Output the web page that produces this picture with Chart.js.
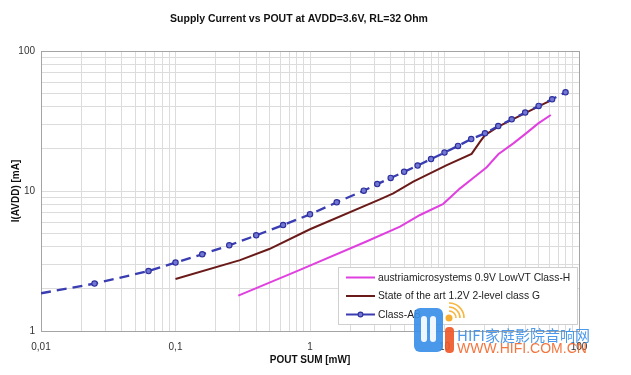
<!DOCTYPE html>
<html lang="en">
<head>
<meta charset="UTF-8" />
<title>Supply Current vs POUT</title>
<script src="https://cdn.jsdelivr.net/npm/chart.js"></script>
<style>
  html, body { margin: 0; padding: 0; background: #fff; }
  #wrap { width: 631px; height: 375px; }
</style>
</head>
<body>
<div id="wrap"><canvas id="currentChart" width="631" height="375"></canvas></div>
<script>
  // values (log-log)
  const chartTitle = 'Supply Current vs POUT at AVDD=3.6V, RL=32 Ohm';
  const seriesNames = [
    'austriamicrosystems 0.9V LowVT Class-H',
    'State of the art 1.2V 2-level class G',
    'Class-AB'
  ];

  const classH_x = [0.293, 0.8, 2.6, 4.67, 6.58, 9.8, 13, 16, 20.6, 25.1, 32.5, 40.4, 49.8, 61.7];
  const classH_y = [1.79, 2.68, 4.34, 5.56, 6.74, 8.1, 10.4, 12.2, 14.8, 18.3, 21.9, 25.8, 30.4, 34.9];

  const classG_x = [0.1, 0.302, 0.498, 1, 3.31, 4.16, 5.86, 10.4, 15.9, 18.4, 20, 25.1, 31.6, 39.8, 50.1, 64];
  const classG_y = [2.35, 3.21, 3.85, 5.33, 8.72, 9.63, 11.65, 15.3, 18.4, 22.5, 25.1, 28.8, 32.2, 36.0, 40.2, 45.2];

  const classAB_x = [0.01, 0.025, 0.063, 0.1, 0.158, 0.251, 0.398, 0.631, 1, 1.58, 2.51, 3.16, 3.98, 5.01, 6.31, 7.94, 10, 12.6, 15.8, 20, 25.1, 31.6, 39.8, 50.1, 63.1, 79.4];
  const classAB_y = [1.86, 2.18, 2.68, 3.08, 3.53, 4.09, 4.82, 5.71, 6.81, 8.3, 10.05, 11.2, 12.4, 13.7, 15.2, 16.9, 18.8, 21.0, 23.5, 25.8, 29.1, 32.5, 36.3, 40.5, 45.2, 50.7];

  const xMajor = [0.01, 0.1, 1, 10, 100];
  const xTickLabels = ['0,01', '0,1', '1', '10', '100'];
  const yMajor = [1, 10, 100];
  const yTickLabels = ['1', '10', '100'];

  const FONT = "'Liberation Sans', Arial, Helvetica, sans-serif";
  const GRID = '#dcdcdc';
  const FRAME = '#a4a4a4';

  // 1..9 lines in every decade
  function decadeGrid(major) {
    const out = [];
    for (let i = 0; i < major.length - 1; i++) {
      for (let m = 1; m <= 9; m++) out.push(parseFloat((m * major[i]).toPrecision(6)));
    }
    out.push(major[major.length - 1]);
    return out;
  }
  const xGrid = decadeGrid(xMajor);
  const yGrid = decadeGrid(yMajor);

  function labelFor(major, labels) {
    return v => {
      const i = major.findIndex(m => Math.abs(m - v) / m < 1e-6);
      return i >= 0 ? labels[i] : '';
    };
  }
  function gridColor(lo, hi) {
    return c => {
      const v = c.tick ? c.tick.value : 0;
      return (Math.abs(v - lo) / lo < 1e-6 || Math.abs(v - hi) / hi < 1e-6) ? FRAME : GRID;
    };
  }

  const toPoints = (xs, ys) => xs.map((x, i) => ({ x: x, y: ys[i] }));

  // title sits a bit left of the plot centre in the original
  const topTitle = {
    id: 'topTitle',
    afterDraw(chart) {
      const ctx = chart.ctx;
      ctx.save();
      ctx.font = 'bold 10.5px ' + FONT;
      ctx.fillStyle = '#111';
      ctx.textAlign = 'center';
      ctx.textBaseline = 'middle';
      ctx.fillText(chartTitle, 299, 19);
      ctx.restore();
    }
  };

  const boxLegend = {
    id: 'boxLegend',
    afterDatasetsDraw(chart) {
      const { ctx, chartArea } = chart;
      const w = 239, h = 57;
      const x0 = chartArea.right - w - 2, y0 = chartArea.bottom - h - 7;
      ctx.save();
      ctx.fillStyle = '#fff';
      ctx.strokeStyle = '#cfcfcf';
      ctx.lineWidth = 1;
      ctx.fillRect(x0, y0, w, h);
      ctx.strokeRect(x0 + 0.5, y0 + 0.5, w, h);
      ctx.font = '10.3px ' + FONT;
      ctx.textBaseline = 'middle';
      chart.data.datasets.forEach((ds, i) => {
        const y = y0 + 10.5 + i * 18.5;
        ctx.strokeStyle = ds.borderColor;
        ctx.lineWidth = 2;
        ctx.setLineDash([]);
        ctx.beginPath();
        ctx.moveTo(x0 + 8, y);
        ctx.lineTo(x0 + 37, y);
        ctx.stroke();
        if (ds.legendDot) {
          ctx.beginPath();
          ctx.arc(x0 + 22.5, y, 2.4, 0, Math.PI * 2);
          ctx.fillStyle = ds.pointBackgroundColor;
          ctx.fill();
          ctx.lineWidth = 1.1;
          ctx.strokeStyle = ds.pointBorderColor;
          ctx.stroke();
        }
        ctx.fillStyle = '#222';
        ctx.fillText(ds.label, x0 + 40, y + 0.5);
      });
      ctx.restore();
    }
  };

  function roundRect(ctx, x, y, w, h, r) {
    ctx.beginPath();
    ctx.moveTo(x + r, y);
    ctx.arcTo(x + w, y, x + w, y + h, r);
    ctx.arcTo(x + w, y + h, x, y + h, r);
    ctx.arcTo(x, y + h, x, y, r);
    ctx.arcTo(x, y, x + w, y, r);
    ctx.closePath();
  }

  const watermark = {
    id: 'watermark',
    afterDraw(chart) {
      const ctx = chart.ctx;
      ctx.save();
      ctx.globalAlpha = 0.92;
      // logo block
      ctx.fillStyle = '#3b8fe8';
      roundRect(ctx, 414, 308, 29, 44, 6);
      ctx.fill();
      ctx.fillStyle = '#ffffff';
      roundRect(ctx, 421, 316, 6, 26, 3);
      ctx.fill();
      roundRect(ctx, 430, 316, 6, 26, 3);
      ctx.fill();
      ctx.fillStyle = '#f0582a';
      roundRect(ctx, 445, 327, 9, 26, 4);
      ctx.fill();
      ctx.fillStyle = '#f5a623';
      ctx.beginPath();
      ctx.arc(449, 318, 3.5, 0, Math.PI * 2);
      ctx.fill();
      ctx.strokeStyle = '#f5b030';
      ctx.lineWidth = 1.6;
      [7, 11, 15].forEach(r => {
        ctx.beginPath();
        ctx.arc(449, 318, r, -Math.PI / 2, 0);
        ctx.stroke();
      });
      ctx.textBaseline = 'alphabetic';
      ctx.fillStyle = '#3d8fe8';
      ctx.font = "15px 'Noto Sans CJK SC', 'Liberation Sans', sans-serif";
      ctx.fillText('HIFI家庭影院音响网', 457, 341);
      ctx.fillStyle = '#f26a30';
      ctx.font = "14px 'Liberation Sans', Arial, sans-serif";
      ctx.fillText('WWW.HIFI.COM.CN', 457, 353);
      ctx.restore();
    }
  };

  new Chart(document.getElementById('currentChart'), {
    type: 'scatter',
    data: {
      datasets: [
        {
          label: seriesNames[0],
          data: toPoints(classH_x, classH_y),
          showLine: true,
          borderColor: '#e040e0',
          borderWidth: 2,
          pointRadius: 0,
          order: 2
        },
        {
          label: seriesNames[1],
          data: toPoints(classG_x, classG_y),
          showLine: true,
          borderColor: '#6a1a18',
          borderWidth: 2,
          pointRadius: 0,
          order: 1
        },
        {
          label: seriesNames[2],
          data: toPoints(classAB_x, classAB_y),
          showLine: true,
          borderColor: '#3a3db2',
          borderWidth: 2.3,
          borderDash: [10, 6],
          pointRadius: c => (c.dataIndex === 0 ? 0 : 2.7),
          pointBackgroundColor: '#7377d4',
          pointBorderColor: '#2d309c',
          pointBorderWidth: 1.1,
          legendDot: true,
          order: 0
        }
      ]
    },
    options: {
      responsive: false,
      animation: false,
      layout: { padding: { left: 0, right: 52, top: 51, bottom: 0 } },
      plugins: {
        legend: { display: false },
        tooltip: { enabled: false },
        title: { display: false }
      },
      scales: {
        x: {
          type: 'logarithmic',
          min: 0.01,
          max: 100,
          afterBuildTicks: s => { s.ticks = xGrid.map(v => ({ value: v })); },
          afterFit: s => { s.height = 44; },
          ticks: {
            autoSkip: false,
            maxRotation: 0,
            padding: 10,
            color: '#333',
            font: { family: FONT, size: 10 },
            callback: labelFor(xMajor, xTickLabels)
          },
          grid: { color: gridColor(0.01, 100), drawTicks: false, lineWidth: 1 },
          border: { color: FRAME, width: 1 },
          title: {
            display: true,
            text: 'POUT SUM [mW]',
            color: '#111',
            font: { family: FONT, size: 10, weight: 'bold' },
            padding: { top: 0, bottom: 9 }
          }
        },
        y: {
          type: 'logarithmic',
          min: 1,
          max: 100,
          afterBuildTicks: s => { s.ticks = yGrid.map(v => ({ value: v })); },
          afterFit: s => { s.width = 41; },
          ticks: {
            autoSkip: false,
            padding: 6,
            color: '#333',
            font: { family: FONT, size: 10 },
            callback: labelFor(yMajor, yTickLabels)
          },
          grid: { color: gridColor(1, 100), drawTicks: false, lineWidth: 1 },
          border: { color: FRAME, width: 1 },
          title: {
            display: true,
            text: 'I(AVDD) [mA]',
            color: '#111',
            font: { family: FONT, size: 10, weight: 'bold' },
            padding: { top: 10, bottom: 0 }
          }
        }
      }
    },
    plugins: [topTitle, boxLegend, watermark]
  });
</script>
</body>
</html>
